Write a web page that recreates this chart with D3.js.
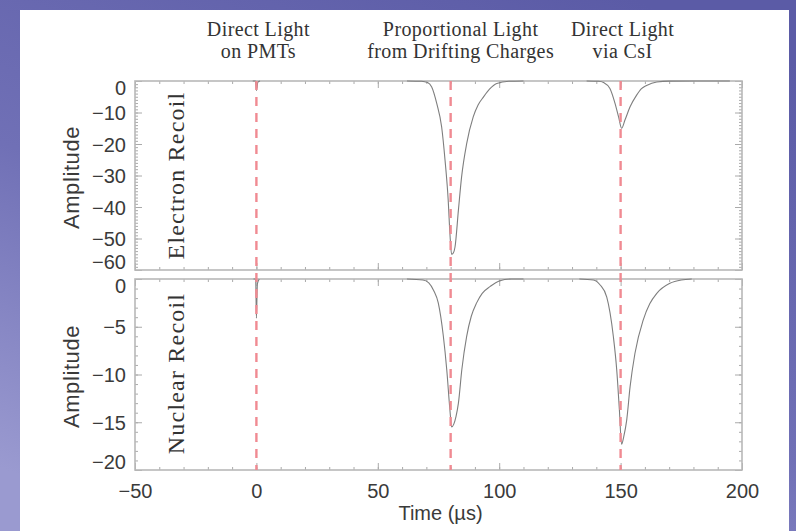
<!DOCTYPE html>
<html>
<head>
<meta charset="utf-8">
<script src="https://cdn.jsdelivr.net/npm/d3@7"></script>
<style>
  html, body { margin: 0; padding: 0; background: #6a6ab0; }
  svg { display: block; }
  .tick text { fill: #3a3a3a; }
</style>
</head>
<body>
<svg id="chart" width="796" height="531"></svg>
<script>
// ---- data ----------------------------------------------------------------
const timeDomain = [-50, 200];
const timeTicks = [-50, 0, 50, 100, 150, 200];
const markerTimes = [0, 80, 150];
const markerNotes = [
  ["Direct Light", "on PMTs"],
  ["Proportional Light", "from Drifting Charges"],
  ["Direct Light", "via CsI"]
];
const panelNames = ["Electron Recoil", "Nuclear Recoil"];
const electronDomain = [-60, 0];
const electronTicks = [0, -10, -20, -30, -40, -50, -60];
const nuclearDomain = [-20, 0];
const nuclearTicks = [0, -5, -10, -15, -20];

// waveform samples [time (us), amplitude]; null separates pulse windows
const electronRecoil = [
  [-1.5, 0], [-0.4, 0], [0, -3], [0.6, -0.4], [1.5, 0], null,
  [62, 0], [68, -0.1], [70.5, -0.5], [72.2, -1.9], [74.3, -7.2], [76.3, -14.6],
  [77.7, -25.2], [79, -37.9], [79.7, -48.4], [80.4, -55], [81.1, -54.6],
  [81.8, -52.7], [83.2, -41], [84.5, -30.5], [86.6, -19.9], [89.3, -11.4],
  [91.3, -7.6], [93.5, -5.1], [96, -2.6], [99, -0.8], [104, -0.1], [110, 0], null,
  [136, 0], [141, -0.1], [143, -0.5], [145.6, -2.4], [147.7, -7.1],
  [149.2, -11.5], [150.4, -15], [151.8, -12.4], [153.9, -8.2], [156.6, -4.5],
  [158.5, -2.5], [160.7, -1.4], [164.9, -0.3], [170, -0.05], [195, 0]
];
const nuclearRecoil = [
  [-1.2, 0], [-0.3, 0], [0, -4.1], [0.4, -0.5], [1.2, 0], null,
  [62, 0], [68.6, -0.1], [71, -0.4], [73, -1.2], [74.9, -2.5], [77, -6],
  [78.4, -9.5], [79.7, -13.7], [80.4, -15.5], [81.3, -15.2], [82.2, -14.4],
  [83.2, -13], [84.6, -9.5], [86.6, -6], [88.5, -3.9], [90.7, -2.5], [93, -1.5],
  [96.2, -0.8], [100, -0.2], [105, 0], [110, 0], null,
  [133, 0], [138.8, -0.1], [141.5, -0.6], [144.3, -1.9], [147, -6],
  [148.4, -9.5], [149.5, -13.7], [150.4, -17.3], [151.3, -16.5], [152.5, -14.8],
  [153.9, -11.3], [155.9, -7.8], [159.3, -4.3], [162, -2.6], [164.9, -1.5],
  [170.3, -0.45], [175, -0.1], [179.3, 0]
];

// ---- layout ----------------------------------------------------------------
const W = 796, H = 531;
const plotLeft = 135, plotRight = 742;
const panels = [
  { name: panelNames[0], top: 81, bottom: 270, domain: electronDomain,
    ticks: electronTicks, minorStep: 1, data: electronRecoil },
  { name: panelNames[1], top: 279, bottom: 470, domain: nuclearDomain,
    ticks: nuclearTicks, minorStep: 1, data: nuclearRecoil }
];

const svg = d3.select("#chart");
const defs = svg.append("defs");
const grad = defs.append("linearGradient").attr("id", "bg")
  .attr("x1", "0.8").attr("y1", "0").attr("x2", "0.2").attr("y2", "1");
grad.append("stop").attr("offset", "0").attr("stop-color", "#5b5ba6");
grad.append("stop").attr("offset", "0.55").attr("stop-color", "#7070b6");
grad.append("stop").attr("offset", "1").attr("stop-color", "#9a9ad0");

svg.append("rect").attr("width", W).attr("height", H).attr("fill", "url(#bg)");
svg.append("rect").attr("x", 20).attr("y", 10).attr("width", 769).attr("height", H - 10)
  .attr("fill", "#ffffff");

const x = d3.scaleLinear().domain(timeDomain).range([plotLeft, plotRight]);
const minorTimes = d3.range(timeDomain[0], timeDomain[1] + 0.001, 10);

const frameColor = "#b8b8b8";
const tickColor = "#aaaaaa";

panels.forEach((p, i) => {
  const y = d3.scaleLinear().domain(p.domain).range([p.bottom, p.top]);
  const g = svg.append("g");
  const h = p.bottom - p.top;
  const minorVals = d3.range(p.domain[0], p.domain[1] + 0.001, p.minorStep);

  // minor + major ticks on all four sides, pointing inward
  const addAxis = (axis, tr) => {
    const a = g.append("g").attr("transform", tr).call(axis);
    a.select(".domain").remove();
    a.selectAll(".tick line").attr("stroke", tickColor).attr("stroke-width", 1);
    return a;
  };
  addAxis(d3.axisBottom(x).tickValues(minorTimes).tickSize(-3).tickFormat(""),
    `translate(0,${p.bottom})`);
  addAxis(d3.axisTop(x).tickValues(minorTimes).tickSize(-3).tickFormat(""),
    `translate(0,${p.top})`);
  addAxis(d3.axisBottom(x).tickValues(timeTicks).tickSize(-7).tickFormat(""),
    `translate(0,${p.bottom})`);
  addAxis(d3.axisTop(x).tickValues(timeTicks).tickSize(-7).tickFormat(""),
    `translate(0,${p.top})`);
  addAxis(d3.axisLeft(y).tickValues(minorVals).tickSize(-3).tickFormat(""),
    `translate(${plotLeft},0)`);
  addAxis(d3.axisRight(y).tickValues(minorVals).tickSize(-3).tickFormat(""),
    `translate(${plotRight},0)`);
  addAxis(d3.axisRight(y).tickValues(p.ticks).tickSize(-7).tickFormat(""),
    `translate(${plotRight},0)`);
  const yAxis = addAxis(
    d3.axisLeft(y).tickValues(p.ticks).tickSize(-7).tickPadding(9)
      .tickFormat(d => d3.format("d")(d).replace("-", "\u2212")),
    `translate(${plotLeft},0)`);
  yAxis.selectAll(".tick text")
    .attr("font-family", "'Liberation Sans', Arial, sans-serif")
    .attr("font-size", 20)
    .attr("fill", "#3a3a3a")
    .attr("dy", d => d === p.domain[1] ? "0.68em" : d === p.domain[0] ? "-0.1em" : "0.36em");

  // frame
  g.append("rect").attr("x", plotLeft).attr("y", p.top)
    .attr("width", plotRight - plotLeft).attr("height", h)
    .attr("fill", "none").attr("stroke", frameColor).attr("stroke-width", 1.6);

  // waveform
  const line = d3.line()
    .defined(d => d !== null)
    .x(d => x(d[0])).y(d => y(d[1]))
    .curve(d3.curveMonotoneX);
  g.append("path").datum(p.data)
    .attr("d", line)
    .attr("fill", "none").attr("stroke", "#7e7e7e").attr("stroke-width", 1.1);

  // panel name
  g.append("text")
    .attr("transform", `translate(184,${(p.top + p.bottom) / 2 + (i === 0 ? 0 : -1)}) rotate(-90)`)
    .attr("text-anchor", "middle")
    .attr("font-family", "'Liberation Serif', 'Times New Roman', serif")
    .attr("font-size", 24).attr("letter-spacing", 1.2)
    .attr("fill", "#333")
    .text(p.name);

  // y title
  g.append("text")
    .attr("transform", `translate(79,${(p.top + p.bottom) / 2 + 2}) rotate(-90)`)
    .attr("text-anchor", "middle")
    .attr("font-family", "'Liberation Sans', Arial, sans-serif")
    .attr("font-size", 22).attr("letter-spacing", 0.6)
    .attr("fill", "#3a3a3a")
    .text("Amplitude");
});

// event markers spanning both panels
svg.append("g").selectAll("line").data(markerTimes).join("line")
  .attr("x1", d => x(d)).attr("x2", d => x(d))
  .attr("y1", panels[0].top).attr("y2", panels[1].bottom)
  .attr("stroke", "#f08a92").attr("stroke-width", 2.4)
  .attr("stroke-dasharray", "9,7");

// marker notes above the plot
const notes = svg.append("g")
  .attr("font-family", "'Liberation Serif', 'Times New Roman', serif")
  .attr("font-size", 20).attr("letter-spacing", 0.4)
  .attr("fill", "#333").attr("text-anchor", "middle");
markerTimes.forEach((t, i) => {
  markerNotes[i].forEach((s, j) => {
    notes.append("text").attr("x", x(t) + (i === 1 ? 10 : 2)).attr("y", 36 + j * 22).text(s);
  });
});

// time axis labels
const xAxis = svg.append("g").attr("transform", `translate(0,${panels[1].bottom})`)
  .call(d3.axisBottom(x).tickValues(timeTicks).tickSize(0).tickPadding(14)
    .tickFormat(d => d3.format("d")(d).replace("-", "\u2212")));
xAxis.select(".domain").remove();
xAxis.selectAll(".tick text")
  .attr("font-family", "'Liberation Sans', Arial, sans-serif")
  .attr("font-size", 20).attr("fill", "#3a3a3a");

svg.append("text")
  .attr("x", x(75) + 2).attr("y", 520)
  .attr("text-anchor", "middle")
  .attr("font-family", "'Liberation Sans', Arial, sans-serif")
  .attr("font-size", 20).attr("fill", "#3a3a3a")
  .text("Time (\u00b5s)");
</script>
</body>
</html>
